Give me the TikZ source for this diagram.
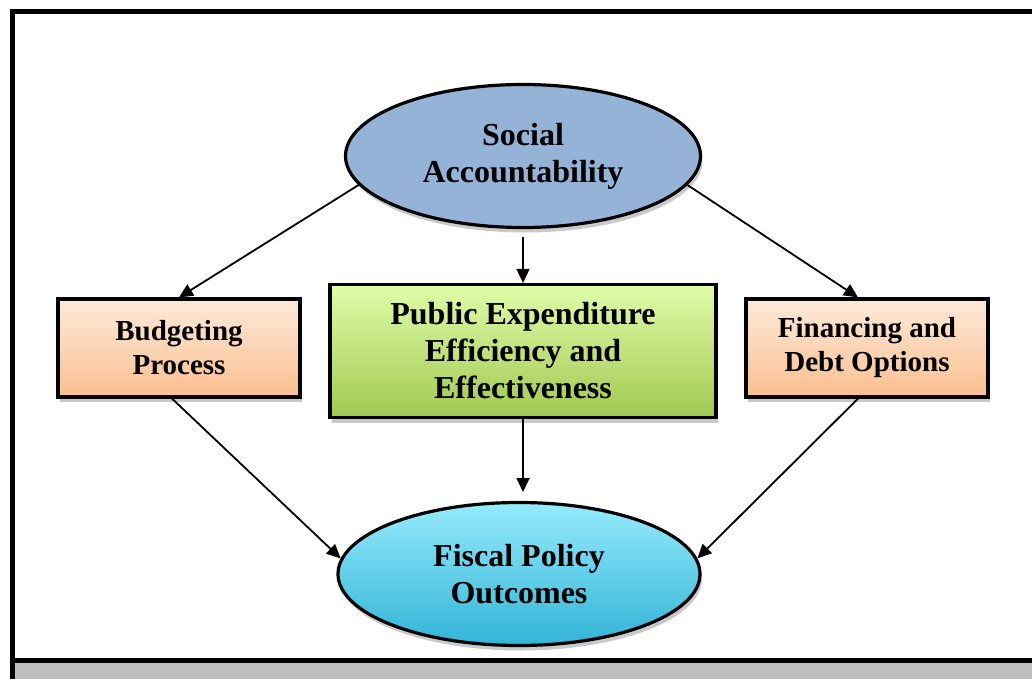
\documentclass[tikz,border=0pt]{standalone}
\usepackage{fontspec}
\setmainfont{Liberation Serif}
\usetikzlibrary{shapes.geometric,shadows,arrows.meta}
\begin{document}
\begin{tikzpicture}[x=1pt,y=-1pt,
  lbl/.style={font=\bfseries\fontsize{32}{37}\selectfont,align=center,text=black},
  sidelbl/.style={font=\bfseries\fontsize{29}{34}\selectfont},
  oval/.style={ellipse,draw=black,line width=3.2pt,lbl},
  boxnode/.style={rectangle,draw=black,line width=3.2pt,lbl,
     drop shadow={shadow xshift=2pt,shadow yshift=-5pt,opacity=0.35,fill=black!60}},
  conn/.style={line width=1.8pt,-{Triangle[length=14pt,width=13pt]}}]
\useasboundingbox (0,0) rectangle (1032,679);
% frame
\fill[white] (0,0) rectangle (1032,679);
\fill[black!25] (12,661) rectangle (1040,685);
\draw[line width=5pt] (12,685) -- (12,12) -- (1040,12);
\draw[line width=5pt] (12,660) -- (1040,660);
% nodes
\node[oval,minimum width=355pt,minimum height=143pt,fill={rgb,255:red,149;green,179;blue,215},
  drop shadow={shadow xshift=2pt,shadow yshift=-5pt,opacity=0.35,fill=black!60}] (sa) at (523,156) {Social\\Accountability};
\node[boxnode,sidelbl,minimum width=242pt,minimum height=98pt,top color={rgb,255:red,253;green,234;blue,218},bottom color={rgb,255:red,250;green,191;blue,143}] (bp) at (179,348) {Budgeting\\Process};
\node[boxnode,minimum width=386pt,minimum height=133pt,top color={rgb,255:red,225;green,252;blue,170},bottom color={rgb,255:red,160;green,200;blue,80}] (pe) at (523,351) {Public Expenditure\\Efficiency and\\Effectiveness};
\node[boxnode,sidelbl,minimum width=242pt,minimum height=98pt,top color={rgb,255:red,253;green,234;blue,218},bottom color={rgb,255:red,250;green,191;blue,143}] (fd) at (867,348) {Financing and\\Debt Options};
\node[oval,minimum width=362pt,minimum height=143pt,top color={rgb,255:red,150;green,235;blue,252},bottom color={rgb,255:red,50;green,180;blue,215},
  drop shadow={shadow xshift=2pt,shadow yshift=-5pt,opacity=0.35,fill=black!60}] (fp) at (519,574) {Fiscal Policy\\Outcomes};
% connectors
\coordinate (sab) at (523,237);
\coordinate (pet) at (523,492);
\draw[conn] (sa.190) -- (bp.north);
\draw[conn] (sab) -- (pe.north);
\draw[conn] (sa.-10) -- (fd.north -| 858,0);
\draw[conn] (bp.south -| 172,0) -- (fp.175);
\draw[conn] (pe.south) -- (pet);
\draw[conn] (fd.south -| 858,0) -- (fp.5);
\end{tikzpicture}
\end{document}
